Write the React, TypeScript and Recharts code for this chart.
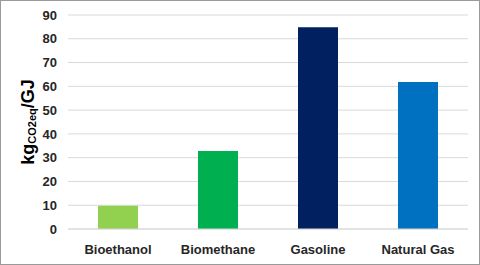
import { BarChart, Bar, XAxis, YAxis, CartesianGrid, Cell } from 'recharts';

const fuels = ['Bioethanol', 'Biomethane', 'Gasoline', 'Natural Gas'];
const emissions = [9.8, 32.8, 84.8, 61.8];
const barColors = ['#92d050', '#00b050', '#002060', '#0070c0'];
const yTicks = [0, 10, 20, 30, 40, 50, 60, 70, 80, 90];

const data = fuels.map((name, i) => ({ name, value: emissions[i] }));

const font = '"Liberation Sans", Arial, sans-serif';

function YLabel({ viewBox }: any) {
  const cx = 27;
  const cy = viewBox.y + viewBox.height / 2;
  return (
    <text
      x={cx}
      y={cy}
      transform={`rotate(-90 ${cx} ${cy})`}
      textAnchor="middle"
      dominantBaseline="central"
      fill="#000"
      fontFamily={font}
      fontWeight="bold"
      fontSize={18}
    >
      kg
      <tspan fontSize={11} dy={4}>CO2eq</tspan>
      <tspan dy={-4}>/GJ</tspan>
    </text>
  );
}

export default function App() {
  return (
    <div
      style={{
        position: 'absolute',
        left: 0,
        top: 0,
        width: 480,
        height: 265,
        boxSizing: 'border-box',
        border: '1px solid #9a9a9a',
        background: '#fff',
      }}
    >
      <BarChart
        width={478}
        height={263}
        data={data}
        margin={{ top: 14, right: 11, left: 0, bottom: 5 }}
        barCategoryGap="30%"
      >
        <CartesianGrid vertical={false} stroke="#d9d9d9" />
        <XAxis
          dataKey="name"
          height={30}
          axisLine={{ stroke: '#d9d9d9' }}
          tickLine={false}
          tickMargin={10}
          tick={{ fill: '#262626', fontSize: 13, fontWeight: 'bold', fontFamily: font }}
        />
        <YAxis
          width={67}
          domain={[0, 90]}
          ticks={yTicks}
          interval={0}
          axisLine={false}
          tickLine={false}
          tickMargin={5}
          tick={{ fill: '#262626', fontSize: 13, fontWeight: 'bold', fontFamily: font }}
          label={<YLabel />}
        />
        <Bar dataKey="value" isAnimationActive={false}>
          {data.map((d, i) => (
            <Cell key={d.name} fill={barColors[i]} />
          ))}
        </Bar>
      </BarChart>
    </div>
  );
}
